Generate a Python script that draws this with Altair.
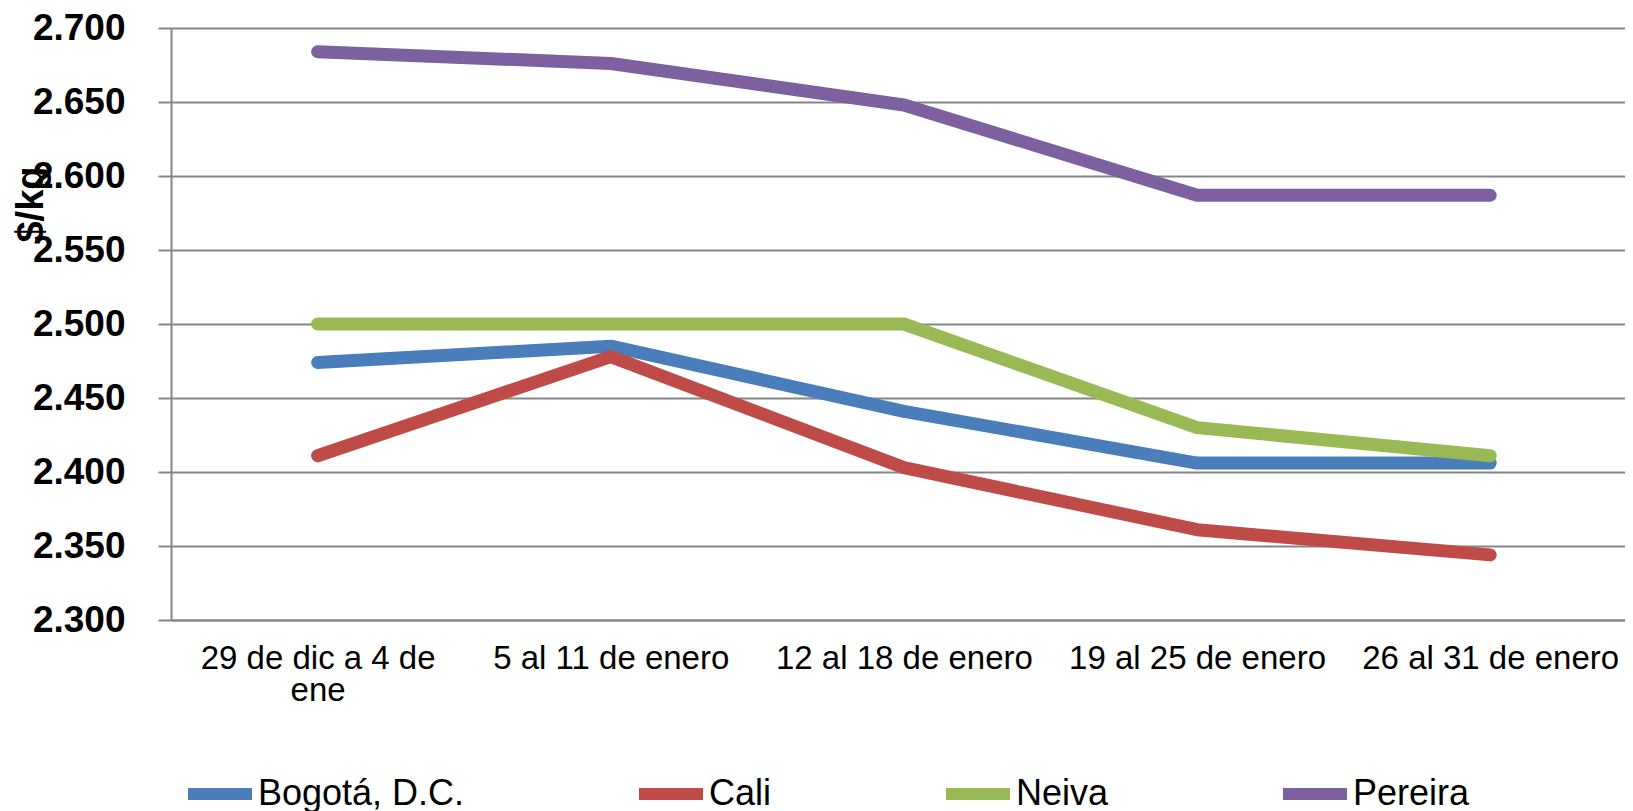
import altair as alt
import pandas as pd

semanas = ["29 de dic a 4 de ene", "5 al 11 de enero", "12 al 18 de enero",
           "19 al 25 de enero", "26 al 31 de enero"]
ciudades = ["Bogotá, D.C.", "Cali", "Neiva", "Pereira"]
bogota = [2474, 2485, 2441, 2406, 2406]
cali = [2411, 2478, 2403, 2361, 2344]
neiva = [2500, 2500, 2500, 2430, 2411]
pereira = [2684, 2676, 2648, 2587, 2587]
colores = ["#4A7EBB", "#BE4B48", "#98B954", "#7D60A0"]
y_ticks = [2300, 2350, 2400, 2450, 2500, 2550, 2600, 2650, 2700]

series = [bogota, cali, neiva, pereira]
rows = []
for ciudad, valores in zip(ciudades, series):
    for i, (s, v) in enumerate(zip(semanas, valores)):
        rows.append({"semana": s, "ciudad": ciudad, "precio": v, "orden": i})
df = pd.DataFrame(rows)

FONT = "Liberation Sans"

x_label_expr = ("datum.label == '29 de dic a 4 de ene' ? "
                "['29 de dic a 4 de', 'ene'] : datum.label")

chart = alt.Chart(df).mark_line(
    strokeWidth=13, strokeCap="round", strokeJoin="round"
).encode(
    x=alt.X("semana:N", sort=semanas,
            scale=alt.Scale(type="point", padding=0.48, align=0.521),
            axis=alt.Axis(title=None, labelAngle=0, ticks=False, grid=False,
                          domainColor="#868686", domainWidth=2,
                          labelFont=FONT, labelFontSize=33, labelColor="black",
                          labelPadding=22, labelLineHeight=32,
                          labelExpr=x_label_expr, labelLimit=400)),
    y=alt.Y("precio:Q",
            scale=alt.Scale(domain=[2300, 2700], nice=False, zero=False),
            axis=alt.Axis(title="$/kg", values=y_ticks,
                          labelExpr="replace(format(datum.value, ',.0f'), ',', '.')",
                          labelFont=FONT, labelFontSize=37, labelFontWeight="bold",
                          labelColor="black", labelPadding=33,
                          tickSize=13, tickColor="#868686", tickWidth=2,
                          domainColor="#868686", domainWidth=2,
                          gridColor="#868686", gridWidth=2,
                          titleFont=FONT, titleFontSize=38, titleFontWeight="bold",
                          titleColor="black", titleAngle=270,
                          titleX=-140, titleY=176,
                          titleAlign="center", titleBaseline="middle")),
    color=alt.Color("ciudad:N", sort=ciudades,
                    scale=alt.Scale(domain=ciudades, range=colores),
                    legend=alt.Legend(orient="none", direction="horizontal",
                                      legendX=11, legendY=728, title=None,
                                      symbolType="stroke", symbolSize=4096,
                                      symbolStrokeWidth=12,
                                      labelFont=FONT, labelFontSize=36,
                                      labelColor="black", labelOffset=0,
                                      columnPadding=150, labelLimit=500)),
    order=alt.Order("orden:Q"),
).properties(
    width=1454, height=592,
    autosize=alt.AutoSizeParams(type="none"),
    padding={"left": 163, "top": 20, "right": 0, "bottom": 191},
).configure_view(stroke=None)

chart.save("out.html", embed_options={"renderer": "svg", "actions": False})
